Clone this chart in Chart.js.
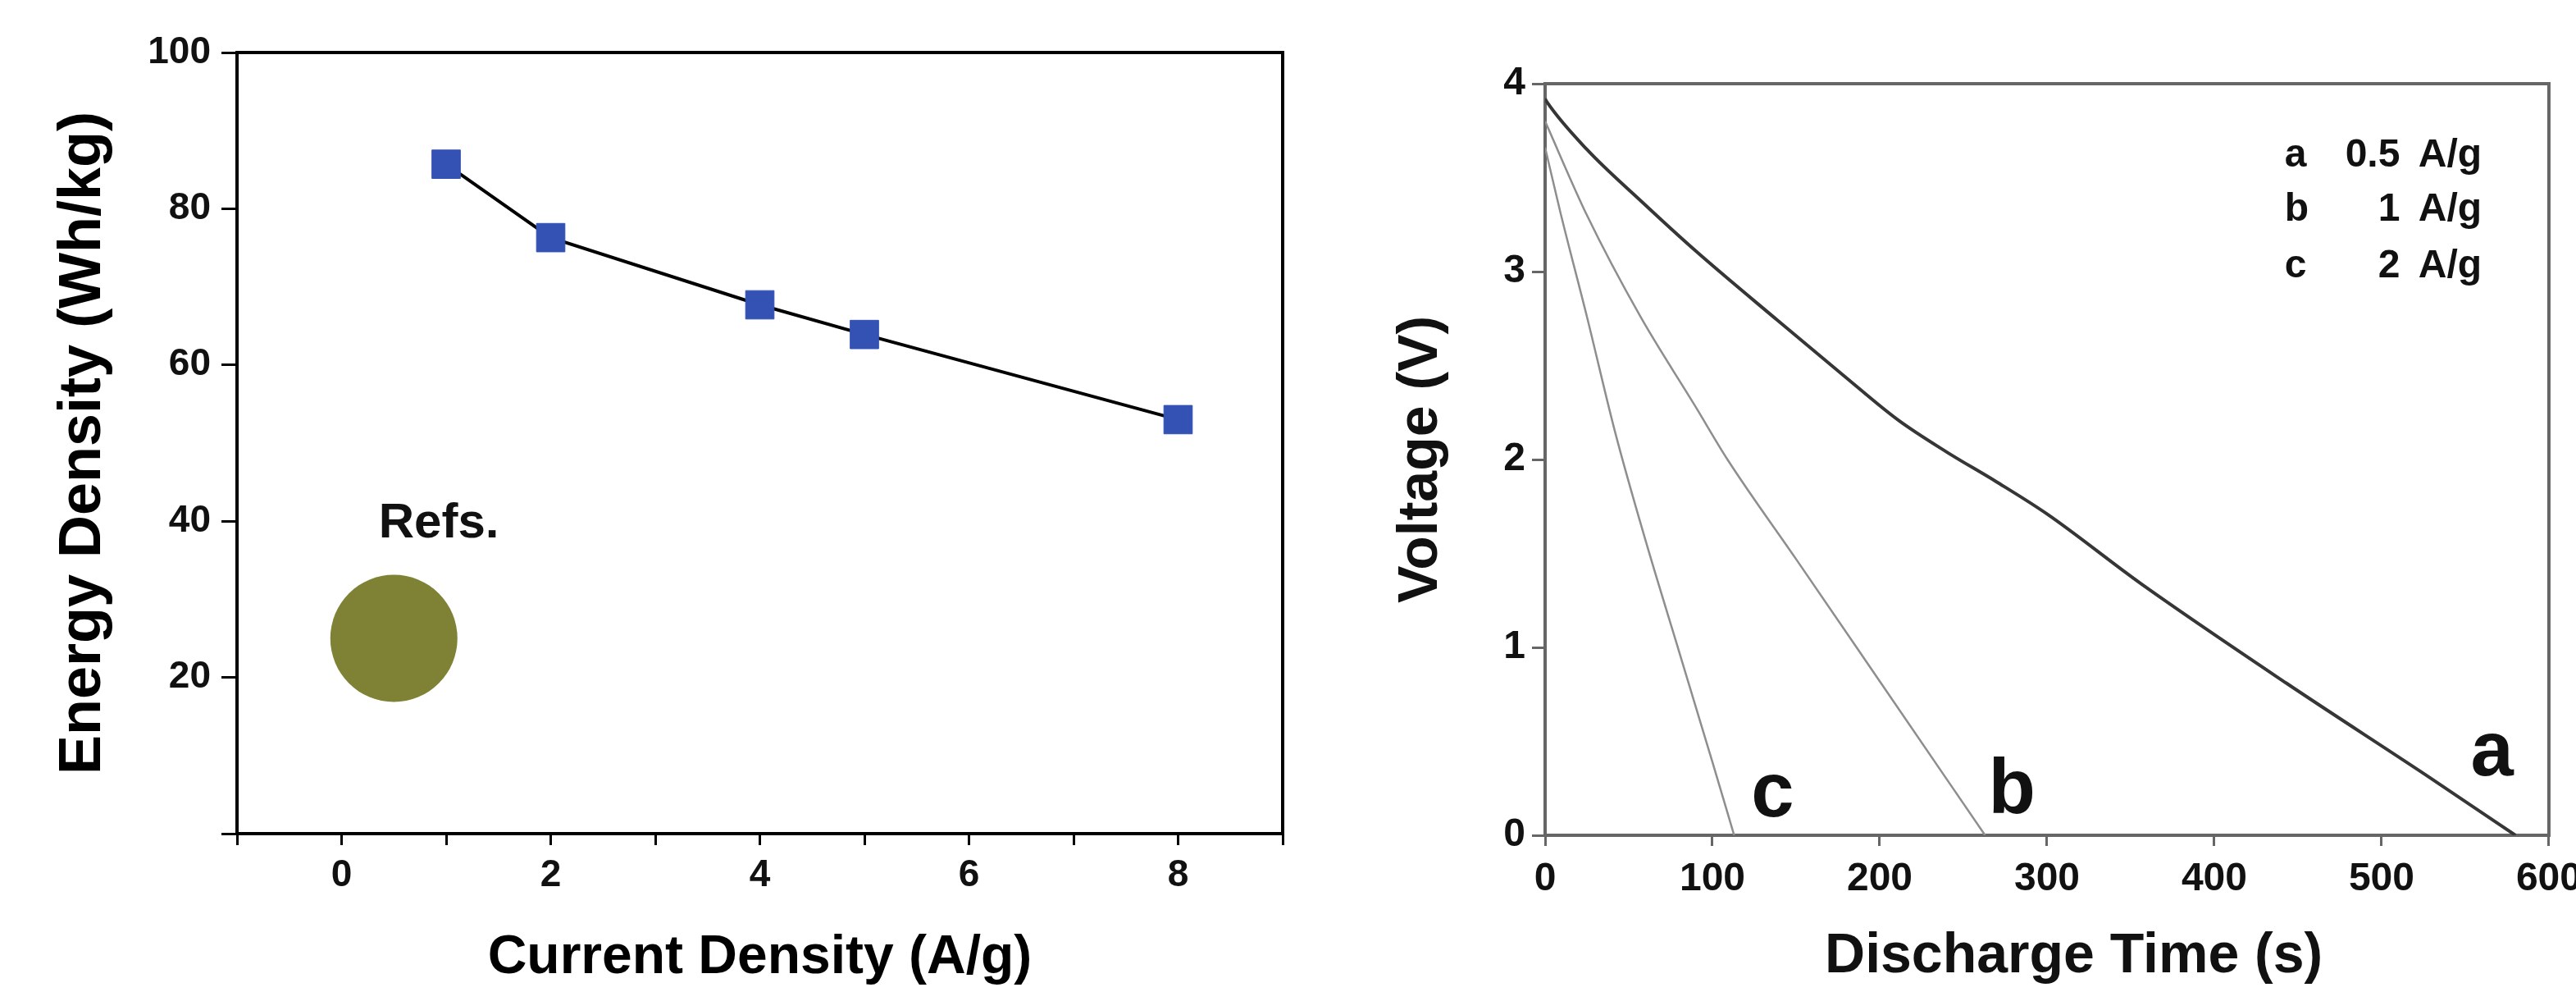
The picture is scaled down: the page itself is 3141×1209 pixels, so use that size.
<!DOCTYPE html>
<html>
<head>
<meta charset="utf-8">
<script src="https://cdn.jsdelivr.net/npm/chart.js@4.4.1/dist/chart.umd.min.js"></script>
<style>
  html, body { margin: 0; padding: 0; background: #fff; overflow: hidden; width: 3141px; height: 1209px; }
  canvas { position: absolute; top: 0; }
  #energy { left: 0; }
  #discharge { left: 1600px; }
</style>
</head>
<body>
<canvas id="energy" width="1600" height="1209"></canvas>
<canvas id="discharge" width="1560" height="1209"></canvas>
<script>
// left panel: energy density vs current density
const currentDensity = [1, 2, 4, 5, 8];
const energyDensity = [85.7, 76.3, 67.7, 63.9, 53.0];
const refsX = [0.5];
const refsY = [25];
const energyXTicks = [0, 2, 4, 6, 8];

// right panel: discharge curves
const timeA = [0, 1.3, 25, 58, 90, 139, 178, 211, 240, 270, 300, 356, 443, 530, 580];
const voltA = [3.92, 3.90, 3.65, 3.37, 3.11, 2.74, 2.45, 2.21, 2.04, 1.88, 1.71, 1.34, 0.81, 0.30, 0];
const timeB = [0, 25, 57, 90, 109, 150, 200, 263];
const voltB = [3.80, 3.30, 2.76, 2.28, 2.00, 1.47, 0.82, 0];
const timeC = [0, 9, 25, 42, 60, 80, 100, 113];
const voltC = [3.66, 3.32, 2.76, 2.14, 1.57, 0.98, 0.39, 0];
const curveNames = ['a', 'b', 'c'];
const curveRates = ['0.5', '1', '2'];
const rateUnit = 'A/g';

Chart.defaults.font.family = '"Liberation Sans", Arial, Helvetica, sans-serif';
Chart.defaults.font.weight = 'bold';
Chart.defaults.color = '#111';

function pts(xs, ys) {
    return xs.map((x, i) => ({ x: x, y: ys[i] }));
}

// top and right sides of the box
const framePlugin = {
    id: 'frame',
    afterDraw(chart, args, opts) {
        const ctx = chart.ctx;
        const a = chart.chartArea;
        ctx.save();
        ctx.strokeStyle = opts.color;
        ctx.lineWidth = opts.width;
        ctx.beginPath();
        ctx.moveTo(a.left - opts.width / 2, a.top);
        ctx.lineTo(a.right, a.top);
        ctx.lineTo(a.right, a.bottom + opts.width / 2);
        ctx.stroke();
        ctx.restore();
    }
};

// free text placed in data coordinates
const notesPlugin = {
    id: 'notes',
    afterDatasetsDraw(chart, args, opts) {
        const ctx = chart.ctx;
        const x = chart.scales.x, y = chart.scales.y;
        ctx.save();
        ctx.fillStyle = '#111';
        ctx.textBaseline = 'alphabetic';
        (opts.items || []).forEach(n => {
            ctx.font = 'bold ' + n.size + 'px "Liberation Sans", Arial, sans-serif';
            ctx.textAlign = n.align || 'center';
            ctx.fillText(n.text, x.getPixelForValue(n.x), y.getPixelForValue(n.y));
        });
        ctx.restore();
    }
};

new Chart(document.getElementById('energy'), {
    type: 'scatter',
    data: {
        datasets: [{
            data: pts(currentDensity, energyDensity),
            showLine: true,
            borderColor: '#000',
            borderWidth: 4,
            pointStyle: 'rect',
            pointRadius: 24.5,
            pointBackgroundColor: '#3452b4',
            pointBorderColor: '#3452b4',
            pointBorderWidth: 1
        }, {
            data: pts(refsX, refsY),
            pointRadius: 77.5,
            pointBackgroundColor: '#7f8235',
            pointBorderColor: '#7f8235',
            pointBorderWidth: 0
        }]
    },
    options: {
        responsive: false,
        animation: false,
        events: [],
        layout: { autoPadding: false, padding: { left: 0, right: 36, top: 64, bottom: 0 } },
        plugins: {
            legend: { display: false },
            tooltip: { enabled: false },
            frame: { color: '#000', width: 4 },
            notes: { items: [{ text: 'Refs.', x: 0.93, y: 37.9, size: 60 }] }
        },
        scales: {
            x: {
                type: 'linear', min: -1, max: 9,
                ticks: {
                    stepSize: 1, autoSkip: false, maxRotation: 0, padding: 10,
                    font: { size: 46 }, color: '#111',
                    callback: v => energyXTicks.includes(v) ? String(v) : ''
                },
                grid: { drawOnChartArea: false, tickLength: 14, tickWidth: 3, tickColor: '#000' },
                border: { color: '#000', width: 4 },
                title: { display: true, text: 'Current Density (A/g)', font: { size: 66 }, color: '#000', padding: { top: 0, bottom: 2 } },
                afterFit: s => { s.height = 193; }
            },
            y: {
                type: 'linear', min: 0, max: 100,
                ticks: {
                    stepSize: 20, padding: 13, font: { size: 46 }, color: '#111',
                    callback: v => v === 0 ? '' : String(v)
                },
                grid: { drawOnChartArea: false, tickLength: 19, tickWidth: 3, tickColor: '#000' },
                border: { color: '#000', width: 4 },
                title: { display: true, text: 'Energy Density (Wh/kg)', font: { size: 72 }, color: '#000', padding: { top: 59, bottom: 0 } },
                afterFit: s => { s.width = 289; }
            }
        }
    },
    plugins: [framePlugin, notesPlugin]
});

const curveStyle = (color, width) => ({
    showLine: true, borderColor: color, borderWidth: width, pointRadius: 0,
    cubicInterpolationMode: 'monotone'
});

const legendItems = [];
const legendRows = [3.56, 3.27, 2.97];
curveNames.forEach((name, i) => {
    legendItems.push({ text: name, x: 442, y: legendRows[i], size: 48, align: 'left' });
    legendItems.push({ text: curveRates[i], x: 511, y: legendRows[i], size: 48, align: 'right' });
    legendItems.push({ text: rateUnit, x: 522, y: legendRows[i], size: 48, align: 'left' });
});

new Chart(document.getElementById('discharge'), {
    type: 'scatter',
    data: {
        datasets: [
            Object.assign({ data: pts(timeA, voltA) }, curveStyle('#363636', 4)),
            Object.assign({ data: pts(timeB, voltB) }, curveStyle('#8e8e8e', 2.5)),
            Object.assign({ data: pts(timeC, voltC) }, curveStyle('#8e8e8e', 2.5))
        ]
    },
    options: {
        responsive: false,
        animation: false,
        events: [],
        layout: { autoPadding: false, padding: { left: 0, right: 40, top: 102, bottom: 0 } },
        plugins: {
            legend: { display: false },
            tooltip: { enabled: false },
            frame: { color: '#666', width: 4 },
            notes: {
                items: legendItems.concat([
                    { text: 'a', x: 566, y: 0.32, size: 94 },
                    { text: 'b', x: 279, y: 0.12, size: 94 },
                    { text: 'c', x: 136, y: 0.10, size: 94 },
                    // axis title sits right of centre in the original
                    { text: 'Discharge Time (s)', x: 316, y: -0.73, size: 68 }
                ])
            }
        },
        scales: {
            x: {
                type: 'linear', min: 0, max: 600,
                ticks: { stepSize: 100, maxRotation: 0, padding: 12, font: { size: 48 }, color: '#111' },
                grid: { drawOnChartArea: false, tickLength: 13, tickWidth: 3, tickColor: '#666' },
                border: { color: '#666', width: 4 },
                title: { display: false },
                afterFit: s => { s.height = 191; }
            },
            y: {
                type: 'linear', min: 0, max: 4,
                ticks: { stepSize: 1, padding: 8, font: { size: 48 }, color: '#111' },
                grid: { drawOnChartArea: false, tickLength: 16, tickWidth: 3, tickColor: '#666' },
                border: { color: '#666', width: 4 },
                title: { display: true, text: 'Voltage (V)', font: { size: 68 }, color: '#111', padding: { top: 92, bottom: 0 } },
                afterFit: s => { s.width = 284; }
            }
        }
    },
    plugins: [framePlugin, notesPlugin]
});
</script>
</body>
</html>
